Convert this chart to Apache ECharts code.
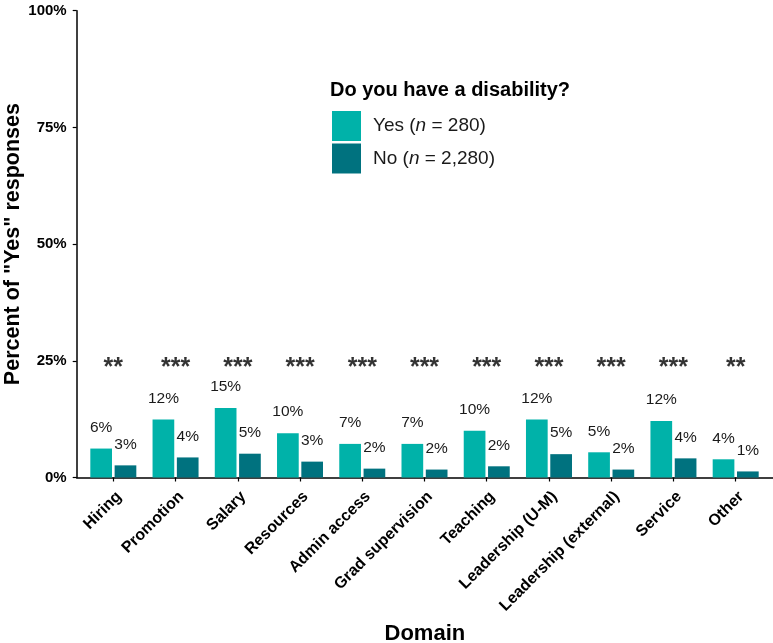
<!DOCTYPE html>
<html>
<head>
<meta charset="utf-8">
<script src="https://cdn.jsdelivr.net/npm/echarts@6/dist/echarts.min.js"></script>
<style>
  html, body { margin: 0; padding: 0; background: #fff; }
  #chart { width: 773px; height: 643px; }
</style>
</head>
<body>
<div id="chart"></div>
<script>
// Domains surveyed
const domains = ["Hiring", "Promotion", "Salary", "Resources", "Admin access",
  "Grad supervision", "Teaching", "Leadership (U-M)", "Leadership (external)", "Service", "Other"];
// Percent answering "Yes" in each domain, by disability status
const yesDisability = [6.2, 12.4, 14.9, 9.5, 7.2, 7.2, 10.0, 12.4, 5.4, 12.1, 3.9];
const noDisability  = [2.6, 4.3, 5.1, 3.4, 1.9, 1.7, 2.4, 5.0, 1.7, 4.1, 1.3];
// Significance markers shown above each domain
const significance = ["**", "***", "***", "***", "***", "***", "***", "***", "***", "***", "**"];
const starLevel = 25;
// Y axis range and ticks
const yMin = 0, yMax = 100, yStep = 25;
// Group sizes for the legend
const groupSizes = { Yes: "280", No: "2,280" };

const FONT = "'Liberation Sans', Arial, sans-serif";
const chart = echarts.init(document.getElementById('chart'));

const pctLabel = {
  show: true,
  position: 'top',
  distance: 13,
  fontFamily: FONT,
  fontSize: 15.5,
  color: '#1a1a1a',
  formatter: p => Math.round(p.value) + '%'
};

chart.setOption({
  animation: false,
  textStyle: { fontFamily: FONT },
  title: {
    text: 'Do you have a disability?',
    left: 330,
    top: 80,
    padding: 0,
    textStyle: { fontFamily: FONT, fontSize: 20, fontWeight: 'bold', color: '#000' }
  },
  legend: {
    orient: 'vertical',
    left: 332,
    top: 111,
    padding: 0,
    itemWidth: 29,
    itemHeight: 30,
    itemGap: 2.5,
    icon: 'rect',
    data: ['Yes', 'No'],
    formatter: name => '{t|' + name + ' (}{i|n}{t| = ' + groupSizes[name] + ')}',
    textStyle: {
      padding: [0, 0, 0, 7],
      rich: {
        t: { fontFamily: FONT, fontSize: 19, color: '#1a1a1a' },
        i: { fontFamily: FONT, fontSize: 19, fontStyle: 'italic', color: '#1a1a1a' }
      }
    }
  },
  grid: [
    { left: 82.2, right: 6.2, top: 10.7, bottom: 165.5, outerBoundsMode: 'none' },
    { left: 76.7, right: 0, top: 10.7, bottom: 165.5, outerBoundsMode: 'none' }
  ],
  xAxis: [
    {
      type: 'category',
      gridIndex: 0,
      data: domains,
      axisLine: { show: false },
      axisTick: { show: true, alignWithLabel: true, length: 4, lineStyle: { color: '#000', width: 1.2 } },
      axisLabel: {
        rotate: 45,
        interval: 0,
        margin: 11,
        verticalAlign: 'top',
        fontFamily: FONT,
        fontSize: 16,
        fontWeight: 'bold',
        color: '#000'
      }
    },
    {
      type: 'value',
      gridIndex: 1,
      min: 0,
      max: 1,
      axisLine: { show: true, onZero: false, lineStyle: { color: '#000', width: 1.5 } },
      axisTick: { show: false },
      axisLabel: { show: false },
      splitLine: { show: false },
      name: 'Domain',
      nameLocation: 'middle',
      nameGap: 145,
      nameMoveOverlap: false,
      nameTextStyle: { fontFamily: FONT, fontSize: 22, fontWeight: 'bold', color: '#000' }
    }
  ],
  yAxis: [
    {
      type: 'value',
      gridIndex: 0,
      min: yMin,
      max: yMax,
      show: false
    },
    {
      type: 'value',
      gridIndex: 1,
      min: yMin,
      max: yMax,
      interval: yStep,
      axisLine: { show: true, lineStyle: { color: '#000', width: 1.5 } },
      axisTick: { show: true, length: 4, lineStyle: { color: '#000', width: 1.2 } },
      splitLine: { show: false },
      axisLabel: {
        margin: 10,
        fontFamily: FONT,
        fontSize: 15,
        fontWeight: 'bold',
        color: '#000',
        formatter: '{value}%'
      },
      name: 'Percent of "Yes" responses',
      nameLocation: 'middle',
      nameGap: 53,
      nameMoveOverlap: false,
      nameTextStyle: { fontFamily: FONT, fontSize: 21.5, fontWeight: 'bold', color: '#000' }
    }
  ],
  series: [
    {
      name: 'Yes',
      type: 'bar',
      xAxisIndex: 0,
      yAxisIndex: 0,
      data: yesDisability,
      barWidth: 21.7,
      barGap: '12%',
      itemStyle: { color: '#00B2A9' },
      label: pctLabel
    },
    {
      name: 'No',
      type: 'bar',
      xAxisIndex: 0,
      yAxisIndex: 0,
      data: noDisability,
      barWidth: 21.7,
      barGap: '12%',
      itemStyle: { color: '#00727F' },
      label: pctLabel
    },
    {
      name: 'significance',
      type: 'scatter',
      xAxisIndex: 0,
      yAxisIndex: 0,
      symbolSize: 0.1,
      itemStyle: { color: 'rgba(0,0,0,0)' },
      silent: true,
      data: significance.map(() => starLevel),
      label: {
        show: true,
        position: 'inside',
        offset: [0, 7],
        fontFamily: FONT,
        fontSize: 25,
        fontWeight: 'bold',
        color: '#000',
        formatter: p => significance[p.dataIndex]
      }
    }
  ]
});
</script>
</body>
</html>
